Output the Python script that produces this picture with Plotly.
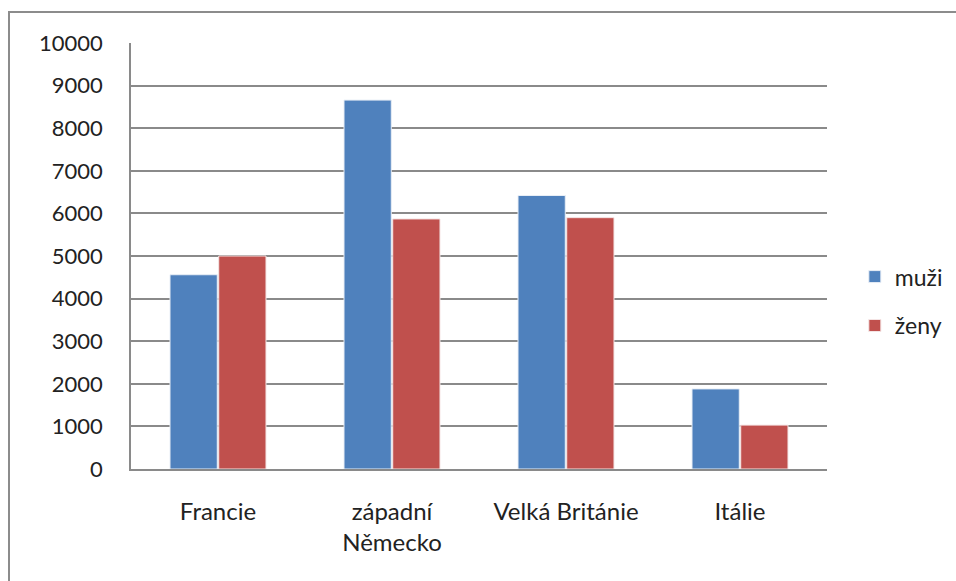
import plotly.graph_objects as go

categories = ["Francie", "západní<br>Německo", "Velká Británie", "Itálie"]
muzi = [4560, 8660, 6420, 1880]
zeny = [5000, 5870, 5900, 1030]
y_ticks = list(range(0, 10001, 1000))
y_tick_labels = [str(v) for v in y_ticks]

FONT = "Lato"

fig = go.Figure()
fig.add_trace(go.Bar(name="muži", x=categories, y=muzi,
                     marker=dict(color="#4F81BD", line=dict(color="#E8EEF6", width=1)),
                     legendgroup="a"))
fig.add_trace(go.Bar(name="ženy", x=categories, y=zeny,
                     marker=dict(color="#C0504D", line=dict(color="#F4E4E4", width=1)),
                     legendgroup="b"))

fig.update_layout(
    width=956, height=581,
    margin=dict(l=131, r=129, t=43, b=112, autoexpand=False),
    paper_bgcolor="white", plot_bgcolor="white",
    barmode="group", bargap=0.44, bargroupgap=0.03,
    font=dict(family=FONT, size=22, color="#222"),
    showlegend=True,
    legend=dict(x=1.04, xanchor="left", y=0.394, yanchor="middle",
                traceorder="grouped", tracegroupgap=16,
                font=dict(family=FONT, size=23, color="#222"),
                itemwidth=30, bgcolor="rgba(0,0,0,0)"),
    xaxis=dict(showline=True, linecolor="#8a8a8a", linewidth=1.5,
               ticks="", showgrid=False, ticklabelstandoff=20,
               tickfont=dict(family=FONT, size=24, color="#222")),
    yaxis=dict(range=[0, 10000], tickvals=y_ticks, ticktext=y_tick_labels,
               showline=True, linecolor="#8a8a8a", linewidth=1.5,
               showgrid=True, gridcolor="#8a8a8a", gridwidth=1.5,
               ticks="", ticklabelstandoff=22, zeroline=False,
               tickfont=dict(family=FONT, size=22, color="#222")),
    shapes=[dict(type="rect", xref="paper", yref="paper",
                 x0=(9 - 131) / 696, x1=1.4, y0=-0.5, y1=(469 - 12) / 426,
                 line=dict(color="#8c8c8c", width=2), fillcolor="rgba(0,0,0,0)",
                 layer="below")],
)

fig.write_html("out.html")
